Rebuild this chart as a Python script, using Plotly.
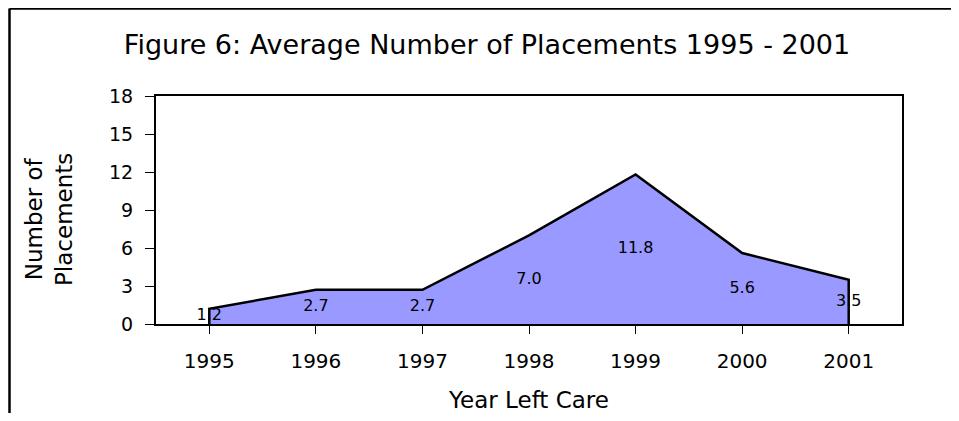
import plotly.graph_objects as go

years = ["1995", "1996", "1997", "1998", "1999", "2000", "2001"]
placements = [1.2, 2.7, 2.7, 7.0, 11.8, 5.6, 3.5]
y_ticks = [0, 3, 6, 9, 12, 15, 18]

FONT = "DejaVu Sans"
idx = list(range(len(years)))

fig = go.Figure()
# closed area polygon (drops to zero at both ends)
fig.add_trace(go.Scatter(
    x=[idx[0]] + idx + [idx[-1]],
    y=[0] + placements + [0],
    mode="lines", fill="toself", fillcolor="#9999FF",
    line=dict(color="black", width=2.5),
    hoverinfo="skip", showlegend=False,
))
# data labels placed mid-height of the area
fig.add_trace(go.Scatter(
    x=idx, y=[v / 2 for v in placements],
    mode="text", text=[f"{v:.1f}" for v in placements],
    textfont=dict(family=FONT, size=16, color="black"),
    textposition="middle center", showlegend=False, hoverinfo="skip",
))

# page has an 8px body margin, so the figure is sized/offset to compensate
W, H = 943, 405
ml, mr, mt, mb = 148, 49, 88, 89
pw = W - ml - mr
ph = H - mt - mb


def px_x(x):  # figure-pixel x -> paper
    return (x - ml) / pw


def px_y(y):  # figure-pixel y (from top) -> paper
    return (H - mb - y) / ph


fig.update_layout(
    width=W, height=H,
    paper_bgcolor="white", plot_bgcolor="white",
    margin=dict(l=ml, r=mr, t=mt, b=mb, autoexpand=False),
    font=dict(family=FONT, color="black"),
    title=dict(text="Figure 6: Average Number of Placements 1995 - 2001",
               x=px_x(479), xref="paper", xanchor="center",
               y=(H - 37) / H, yanchor="middle",
               font=dict(family=FONT, size=27, color="black")),
    xaxis=dict(
        range=[-0.5, 6.5], tickmode="array", tickvals=idx, ticktext=years,
        tickson="boundaries", automargin=False,
        showgrid=False, zeroline=False,
        showline=True, linecolor="black", linewidth=2, mirror=True,
        ticks="outside", ticklen=8, tickcolor="black", tickwidth=1,
        ticklabelstandoff=10,
        tickfont=dict(size=20),
        title=dict(text="Year Left Care", font=dict(size=23), standoff=22),
    ),
    yaxis=dict(
        range=[0, 18], tickmode="array", tickvals=y_ticks,
        automargin=False,
        showgrid=False, zeroline=False,
        showline=True, linecolor="black", linewidth=2, mirror=True,
        ticks="outside", ticklen=9, tickcolor="black", tickwidth=1,
        ticklabelstandoff=8,
        tickfont=dict(size=19),
    ),
    annotations=[dict(text="Number of<br>Placements", textangle=-90,
                      xref="paper", yref="paper", x=px_x(41), y=px_y(211),
                      xanchor="center", yanchor="middle", showarrow=False,
                      font=dict(family=FONT, size=23, color="black"))],
    shapes=[
        dict(type="line", xref="paper", yref="paper",
             x0=px_x(1.5), x1=px_x(W + 20), y0=px_y(0.5), y1=px_y(0.5),
             line=dict(color="black", width=2.5), layer="below"),
        dict(type="line", xref="paper", yref="paper",
             x0=px_x(1.5), x1=px_x(1.5), y0=px_y(0.5), y1=px_y(H + 20),
             line=dict(color="black", width=2.5), layer="below"),
    ],
)
fig.write_html("out.html", config={"displayModeBar": False})
